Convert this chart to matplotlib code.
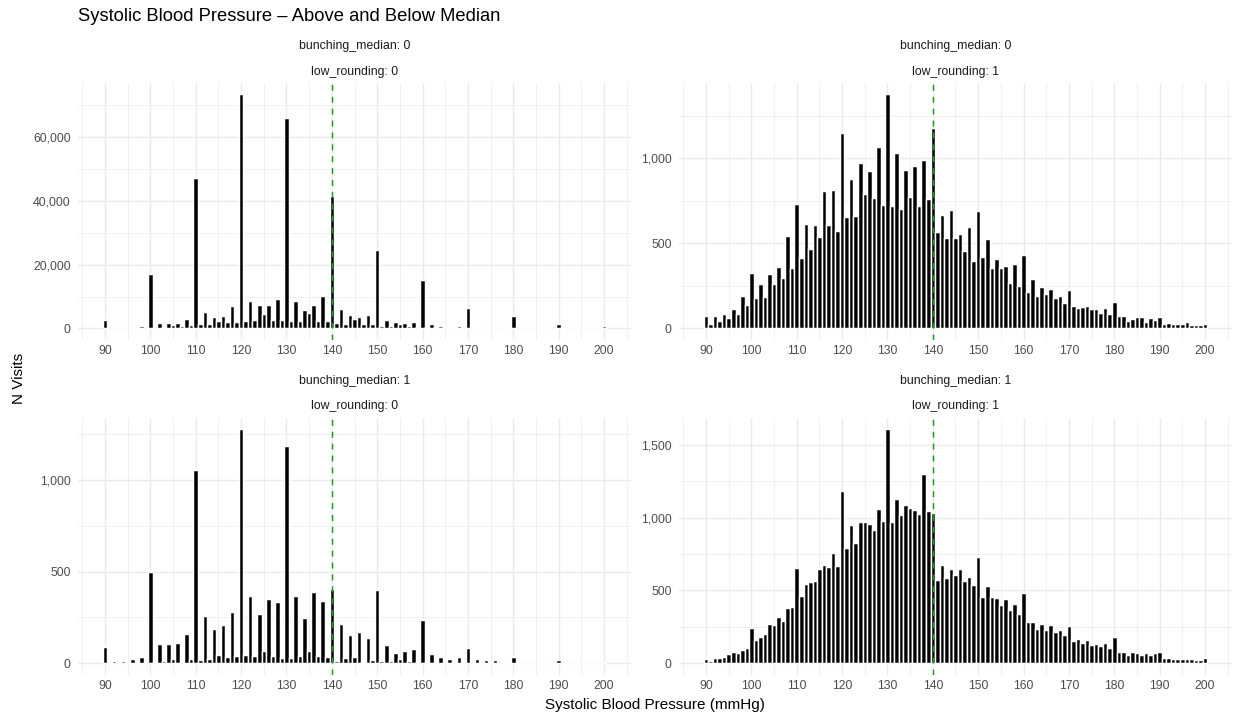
import matplotlib
matplotlib.use("Agg")
import matplotlib.pyplot as plt
from matplotlib.ticker import MultipleLocator, FuncFormatter

plt.rcParams['font.family'] = ['Liberation Sans', 'DejaVu Sans']

# ======================
# Data: visits per systolic value (90..200 mmHg)
# ======================
sbp = list(range(90, 201))

# bunching_median 0, low_rounding 0
counts_b0_r0 = [
    2600, 0, 50, 50, 50, 100, 200, 100, 700, 100,
    17000, 300, 1600, 500, 1600, 1000, 1700, 800, 2900, 1000,
    47000, 1250, 5300, 1500, 3750, 2500, 4000, 2000, 7100, 2000,
    73200, 2200, 8700, 2600, 7200, 4500, 7300, 2600, 9200, 2600,
    65900, 2400, 8700, 2500, 5700, 4900, 7500, 2400, 10100, 2500,
    41500, 1600, 6000, 1500, 4200, 3000, 3750, 1350, 4100, 1350,
    24400, 800, 2800, 900, 2000, 1350, 1700, 700, 2100, 500,
    15300, 400, 1250, 400, 900, 600, 600, 200, 900, 100,
    6400, 100, 400, 100, 200, 100, 200, 100, 300, 50,
    3900, 50, 50, 50, 50, 100, 50, 50, 50, 30,
    1250, 30, 30, 30, 30, 50, 30, 30, 30, 20,
    800,
]

# bunching_median 0, low_rounding 1
counts_b0_r1 = [
    76, 25, 73, 43, 84, 63, 114, 86, 188, 137,
    325, 180, 263, 184, 322, 261, 363, 296, 543, 353,
    729, 414, 616, 469, 606, 539, 810, 610, 814, 575,
    1149, 657, 876, 661, 975, 792, 925, 767, 1069, 725,
    1375, 720, 1033, 702, 931, 775, 953, 720, 992, 761,
    1180, 567, 665, 533, 694, 533, 555, 455, 598, 396,
    688, 418, 524, 357, 408, 353, 369, 269, 376, 247,
    431, 216, 290, 190, 243, 204, 231, 178, 192, 147,
    225, 133, 120, 125, 135, 112, 116, 90, 122, 86,
    153, 73, 73, 45, 57, 65, 69, 41, 59, 49,
    65, 29, 35, 29, 25, 25, 37, 22, 22, 22,
    27,
]

# bunching_median 1, low_rounding 0
counts_b1_r0 = [
    91, 0, 13, 0, 15, 0, 22, 0, 36, 2,
    496, 5, 105, 11, 107, 24, 111, 9, 162, 22,
    1055, 20, 260, 24, 187, 47, 209, 33, 282, 42,
    1276, 45, 369, 42, 269, 67, 351, 40, 333, 29,
    1185, 27, 367, 40, 249, 67, 391, 40, 340, 35,
    407, 15, 215, 27, 155, 36, 169, 9, 138, 18,
    402, 13, 100, 13, 58, 25, 65, 13, 76, 7,
    236, 5, 49, 4, 36, 4, 22, 9, 33, 2,
    84, 2, 22, 4, 20, 4, 16, 2, 4, 2,
    35, 2, 4, 2, 2, 4, 2, 2, 2, 2,
    20, 1, 1, 1, 1, 1, 1, 1, 1, 1,
    2,
]

# bunching_median 1, low_rounding 1
counts_b1_r1 = [
    30, 16, 37, 39, 41, 62, 78, 71, 89, 103,
    240, 162, 178, 204, 268, 261, 318, 291, 380, 389,
    654, 465, 545, 556, 563, 648, 673, 661, 757, 666,
    1181, 789, 952, 828, 970, 966, 957, 913, 1059, 973,
    1606, 970, 1130, 1018, 1089, 1066, 1055, 1025, 1297, 1048,
    1032, 574, 675, 584, 648, 609, 645, 568, 593, 535,
    732, 458, 531, 455, 449, 400, 439, 366, 405, 339,
    485, 284, 286, 238, 270, 229, 263, 217, 229, 197,
    256, 153, 167, 140, 160, 128, 133, 117, 137, 108,
    183, 76, 76, 57, 76, 73, 60, 69, 60, 69,
    78, 37, 37, 32, 32, 27, 27, 27, 25, 25,
    39,
]

median_line = 140

panels = [
    ("bunching_median: 0", "low_rounding: 0", counts_b0_r0, 20000),
    ("bunching_median: 0", "low_rounding: 1", counts_b0_r1, 500),
    ("bunching_median: 1", "low_rounding: 0", counts_b1_r0, 500),
    ("bunching_median: 1", "low_rounding: 1", counts_b1_r1, 500),
]

# ======================
# Figure layout (ggplot-ish facet grid)
# ======================
W, H = 1236, 717
fig = plt.figure(figsize=(W / 100, H / 100), dpi=100)

lefts = [77.6, 678.6]
tops = [82.7, 417.5]
pw, ph = 553.8, 257.5

grid_col = "#EBEBEB"
tick_col = "#4D4D4D"
comma = FuncFormatter(lambda v, p: f"{v:,.0f}")

for i, (strip1, strip2, counts, ystep) in enumerate(panels):
    row, col = divmod(i, 2)
    ax = fig.add_axes([lefts[col] / W, 1 - (tops[row] + ph) / H, pw / W, ph / H])

    ax.bar(sbp, counts, width=1.0, color="black", edgecolor="white",
           linewidth=1.07, zorder=2)
    ax.axvline(median_line, color="#1f9a1f", linewidth=1.07,
               linestyle=(0, (4, 4)), zorder=3)

    ymax = max(counts)
    ax.set_xlim(89.5 - 0.05 * 111, 200.5 + 0.05 * 111)
    ax.set_ylim(-0.05 * ymax, 1.05 * ymax)

    ax.xaxis.set_major_locator(MultipleLocator(10))
    ax.xaxis.set_minor_locator(MultipleLocator(5))
    ax.yaxis.set_major_locator(MultipleLocator(ystep))
    ax.yaxis.set_minor_locator(MultipleLocator(ystep / 2))
    ax.yaxis.set_major_formatter(comma)

    ax.grid(which="major", color=grid_col, linewidth=1.07, zorder=0)
    ax.grid(which="minor", color=grid_col, linewidth=0.53, zorder=0)
    ax.set_axisbelow(True)

    for s in ax.spines.values():
        s.set_visible(False)
    ax.tick_params(which="both", length=0, labelsize=8.8, labelcolor=tick_col)
    ax.tick_params(axis="x", pad=3.8)
    ax.tick_params(axis="y", pad=5)

    ax.annotate(strip1, xy=(0.5, 1), xycoords="axes fraction",
                xytext=(0, 24.0), textcoords="offset points",
                ha="center", va="baseline", fontsize=8.8, color="#1A1A1A")
    ax.annotate(strip2, xy=(0.5, 1), xycoords="axes fraction",
                xytext=(0, 5.8), textcoords="offset points",
                ha="center", va="baseline", fontsize=8.8, color="#1A1A1A")

# ======================
# Titles
# ======================
fig.text(77.6 / W, 1 - 21 / H, "Systolic Blood Pressure \u2013 Above and Below Median",
         ha="left", va="baseline", fontsize=13.2, color="black")
fig.text(19 / W, 1 - (82.7 + 675) / 2 / H, "N Visits", rotation=90,
         ha="center", va="center", fontsize=11, color="black")
fig.text(655 / W, 1 - 709 / H, "Systolic Blood Pressure (mmHg)",
         ha="center", va="baseline", fontsize=11, color="black")

fig.savefig("out.png", dpi=100, facecolor="white")
